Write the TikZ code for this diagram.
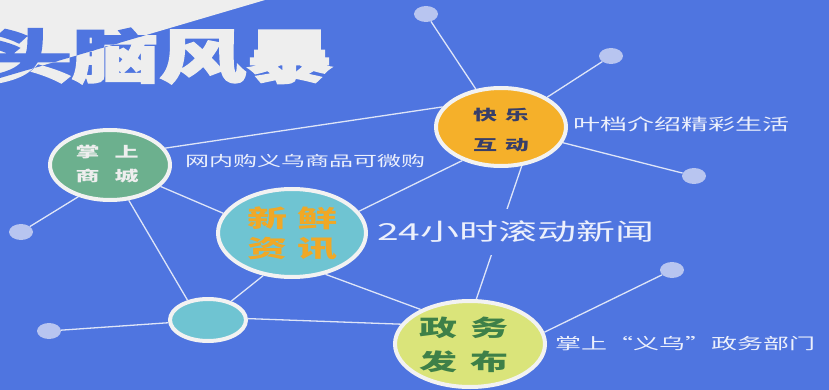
\documentclass[tikz,border=0pt]{standalone}
\usepackage{fontspec}
\usepackage{graphicx}
\usetikzlibrary{shapes.geometric}
\newfontfamily\cjk{Noto Sans CJK SC}
\newfontfamily\cjkheavy{Noto Sans CJK SC}[BoldFeatures={FakeBold=2.5}]
\newcommand{\sqz}[1]{\scalebox{1}[0.6]{#1}}

\definecolor{bgblue}{RGB}{79,117,224}
\definecolor{paper}{RGB}{238,238,238}
\definecolor{ring}{RGB}{242,242,242}
\definecolor{dotblue}{RGB}{184,197,240}
\definecolor{linewhite}{RGB}{222,229,248}
\definecolor{notewhite}{RGB}{236,240,252}
\definecolor{orangefill}{RGB}{245,176,42}
\definecolor{greenfill}{RGB}{108,176,142}
\definecolor{tealfill}{RGB}{111,196,210}
\definecolor{limefill}{RGB}{218,228,122}
\definecolor{navytext}{RGB}{55,62,105}
\definecolor{goldtext}{RGB}{240,168,38}
\definecolor{leaftext}{RGB}{62,128,72}

\tikzset{
  bubble/.style={ellipse, draw=ring, line width=4pt, inner sep=0pt},
  dot/.style={ellipse, fill=dotblue, minimum width=24pt, minimum height=16pt, inner sep=0pt},
  link/.style={draw=linewhite, line width=1.3pt},
  note/.style={anchor=west, text=notewhite, inner sep=2pt, fill=bgblue},
  tag/.style={align=center, inner sep=0pt}
}

\begin{document}
\begin{tikzpicture}[x=1pt, y=-1pt]
		%%%%% START %%%%%
		\useasboundingbox (0,0) rectangle (829,390);
		\fill[bgblue] (0,0) rectangle (829,390);
		
		\fill[paper] (0,0) -- (265,0) -- (0,78) -- cycle;
		\node[text=paper, font={\cjkheavy\bfseries\fontsize{58}{58}\selectfont}] (title) at (159,56) {\scalebox{1.5}[1]{头脑风暴}};
		\begin{scope}
			\clip (0,0) -- (265,0) -- (0,78) -- cycle;
			\node[text=bgblue, font={\cjkheavy\bfseries\fontsize{58}{58}\selectfont}] (title-in) at (159,56) {\scalebox{1.5}[1]{头脑风暴}};
		\end{scope}
		
		\node[bubble, fill=orangefill, minimum width=130pt, minimum height=78pt] (kuaile) at (501,127) {};
		\node[bubble, fill=greenfill, minimum width=120pt, minimum height=70pt] (zhangshang) at (110,165) {};
		\node[bubble, fill=tealfill, minimum width=148pt, minimum height=88pt] (xinxian) at (292,233) {};
		\node[bubble, fill=limefill, minimum width=150pt, minimum height=86pt] (zhengwu) at (470,344) {};
		\node[bubble, fill=tealfill, minimum width=76pt, minimum height=42pt] (hub) at (208,320) {};
		
		\node[dot] (d1) at (426,14) {};
		\node[dot] (d2) at (611,56) {};
		\node[dot] (d3) at (694,176) {};
		\node[dot] (d4) at (21,232) {};
		\node[dot] (d5) at (49,331) {};
		\node[dot] (d6) at (672,270) {};
		
		\draw[link] (d1) -- (kuaile);
		\draw[link] (d2) -- (kuaile);
		\draw[link] (d3) -- (kuaile);
		\draw[link] (zhangshang.17) -- (kuaile.161);
		\draw[link] (xinxian.18) -- (kuaile.221);
		\draw[link] (kuaile.-62) -- (zhengwu.82);
		\draw[link] (zhangshang.225) -- (d4);
		\draw[link] (zhangshang.-62) -- (hub.136);
		\draw[link] (zhangshang.-23) -- (xinxian.164);
		\draw[link] (xinxian.236) -- (hub.39);
		\draw[link] (xinxian.-51) -- (zhengwu.145);
		\draw[link] (hub.2) -- (zhengwu.164);
		\draw[link] (hub) -- (d5);
		\draw[link] (zhengwu.9) -- (d6);
		
		\node[tag, text=navytext, font={\cjk\bfseries\fontsize{24}{30}\selectfont}] (kuaile-t) at (501,130) {\sqz{快\hspace{8pt}乐}\\\sqz{互\hspace{8pt}动}};
		\node[tag, text=paper, font={\cjk\bfseries\fontsize{24}{24}\selectfont}] (zhangshang-t) at (107,164) {\sqz{掌\hspace{15pt}上}\\\sqz{商\hspace{15pt}城}};
		\node[tag, text=goldtext, font={\cjk\bfseries\fontsize{40}{30}\selectfont}] (xinxian-t) at (292,234) {\sqz{新\hspace{10pt}鲜}\\\sqz{资\hspace{10pt}讯}};
		\node[tag, text=leaftext, font={\cjk\bfseries\fontsize{38}{34}\selectfont}] (zhengwu-t) at (464,345) {\sqz{政\hspace{14pt}务}\\\sqz{发\hspace{14pt}布}};
		
		\node[note, font={\cjk\fontsize{24}{24}\selectfont}] (zhangshang-n) at (183,161) {\sqz{网内购义乌商品可微购}};
		\node[note, font={\cjk\fontsize{27}{27}\selectfont}] (kuaile-n) at (571,124) {\sqz{叶档介绍精彩生活}};
		\node[note, font={\cjk\fontsize{39}{39}\selectfont}, inner ysep=12pt] (xinxian-n) at (375,232) {\sqz{24小时滚动新闻}};
		\node[note, font={\cjk\fontsize{26}{26}\selectfont}] (zhengwu-n) at (553,344) {\sqz{掌上“义乌”政务部门}};
		
		%%%%% END %%%%%
\end{tikzpicture}
\end{document}
